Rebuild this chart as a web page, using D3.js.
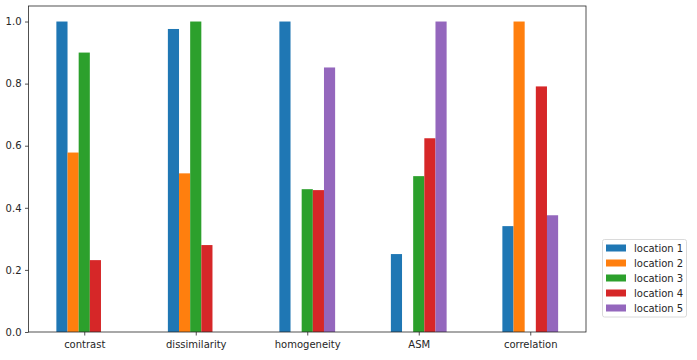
<!DOCTYPE html>
<html><head><meta charset="utf-8">
<script src="https://cdn.jsdelivr.net/npm/d3@7"></script>
<style>body{margin:0;background:#fff}svg{display:block}text{font-family:"DejaVu Sans",sans-serif;font-size:10px;fill:#262626}</style>
</head><body><svg id="c" width="697" height="360"></svg>
<script>
const categories = ["contrast","dissimilarity","homogeneity","ASM","correlation"];
const seriesNames = ["location 1","location 2","location 3","location 4","location 5"];
const loc1 = [1.0, 0.976, 1.0, 0.251, 0.341];
const loc2 = [0.578, 0.511, 0, 0, 1.0];
const loc3 = [0.900, 1.0, 0.460, 0.502, 0];
const loc4 = [0.2315, 0.280, 0.457, 0.624, 0.791];
const loc5 = [0, 0, 0.852, 1.0, 0.376];
const yTicks = [0,0.2,0.4,0.6,0.8,1.0];
const colors = ["#1f77b4","#ff7f0e","#2ca02c","#d62728","#9467bd"];
const series = [loc1,loc2,loc3,loc4,loc5];

const svg = d3.select("#c");
const L=28.5,R=586,T=6,B=332;
const x = d3.scaleLinear().domain([-0.5,categories.length-0.5]).range([L,R]);
const y = d3.scaleLinear().domain([0,1.05]).range([B,T]);
const w = 0.5/series.length;

series.forEach((vals,i)=>{
  svg.append("g").selectAll("rect").data(vals).join("rect")
    .attr("x",(d,j)=>x(j+(i-(series.length-1)/2)*w - w/2))
    .attr("width",x(w)-x(0))
    .attr("y",d=>y(d)).attr("height",d=>y(0)-y(d))
    .attr("fill",colors[i]);
});

const xa = svg.append("g").attr("transform",`translate(0,${B})`)
  .call(d3.axisBottom(x).tickValues(d3.range(categories.length)).tickFormat(i=>categories[i]).tickSize(3.5).tickPadding(3.5));
const ya = svg.append("g").attr("transform",`translate(${L},0)`)
  .call(d3.axisLeft(y).tickValues(yTicks).tickFormat(d3.format(".1f")).tickSize(3.5).tickPadding(3.5));
[xa,ya].forEach(a=>{a.select(".domain").remove();a.selectAll("line").attr("stroke","#262626").attr("stroke-width",0.8);a.selectAll("text").attr("font-size",null).attr("font-family",null);});
xa.selectAll("text").attr("dy","0.9em");

svg.append("rect").attr("x",L).attr("y",T).attr("width",R-L).attr("height",B-T)
  .attr("fill","none").attr("stroke","#262626").attr("stroke-width",0.8);

const lg = svg.append("g");
lg.append("rect").attr("x",602.5).attr("y",239.5).attr("width",84).attr("height",77.5).attr("rx",2)
  .attr("fill","#fff").attr("stroke","#d0d0d0").attr("stroke-width",0.8);
seriesNames.forEach((n,i)=>{
  const cy = 248+i*15;
  lg.append("rect").attr("x",606).attr("y",cy-3.5).attr("width",20).attr("height",7).attr("fill",colors[i]);
  lg.append("text").attr("x",634).attr("y",cy).attr("dy","0.35em").text(n);
});
</script></body></html>
